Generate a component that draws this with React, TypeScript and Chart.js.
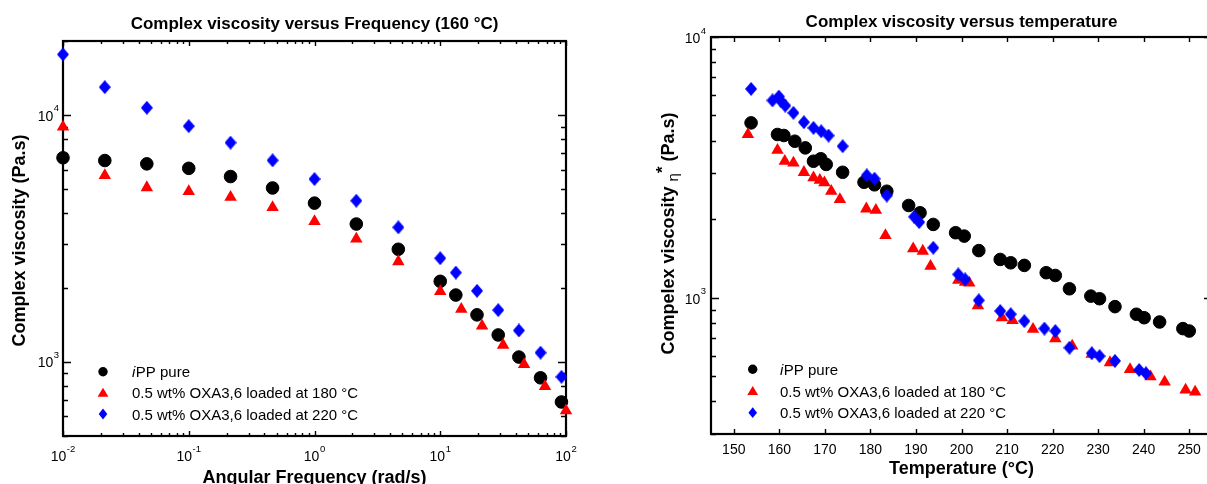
import React, { useEffect, useRef } from 'react';
import { Chart, registerables } from 'chart.js';

Chart.register(...registerables);

// ---------------- Left chart: complex viscosity vs angular frequency (160 °C)
const freqPure = [0.01, 0.0215, 0.0464, 0.1, 0.215, 0.464, 1, 2.15, 4.64, 10, 13.3, 19.6, 28.9, 42.2, 62.7, 92];
const etaPure = [6720, 6550, 6350, 6090, 5640, 5070, 4400, 3620, 2860, 2120, 1865, 1550, 1285, 1045, 861, 687];
const freq180 = [0.01, 0.0215, 0.0464, 0.1, 0.215, 0.464, 1, 2.15, 4.64, 10, 14.7, 21.5, 31.6, 46.4, 68.1, 100];
const eta180 = [8960, 5700, 5090, 4910, 4650, 4230, 3710, 3150, 2550, 1930, 1633, 1397, 1169, 975, 794, 634];
const freq220 = [0.01, 0.0215, 0.0464, 0.1, 0.215, 0.464, 1, 2.15, 4.64, 10, 13.3, 19.6, 28.9, 42.2, 62.7, 92];
const eta220 = [17650, 13000, 10720, 9030, 7740, 6560, 5510, 4500, 3510, 2630, 2300, 1940, 1620, 1340, 1089, 869];

const freqMajorTicks = [0.01, 0.1, 1, 10, 100];
const freqTickExponents = ['-2', '-1', '0', '1', '2'];
const etaFreqMajorTicks = [1000, 10000];
const etaFreqTickExponents = ['3', '4'];

// ---------------- Right chart: complex viscosity vs temperature
const tempPure = [153.8, 159.6, 161.0, 163.4, 165.7, 167.5, 169.1, 170.3, 173.9, 178.6, 180.9, 183.6, 188.4, 190.9, 193.8, 198.7, 200.6, 203.8, 208.5, 210.8, 213.8, 218.6, 220.6, 223.7, 228.4, 230.3, 233.7, 238.4, 240.1, 243.5, 248.6, 250.0];
const etaPureT = [4683, 4227, 4190, 3983, 3756, 3338, 3411, 3245, 3027, 2773, 2710, 2561, 2258, 2117, 1910, 1775, 1723, 1516, 1402, 1361, 1330, 1247, 1217, 1082, 1014, 991, 924, 864, 838, 807, 761, 745];
const temp180 = [153.1, 159.6, 161.2, 163.1, 165.4, 167.5, 168.9, 169.9, 171.4, 173.3, 179.1, 181.2, 183.3, 189.4, 191.5, 193.2, 199.3, 200.8, 201.7, 203.6, 208.9, 211.2, 215.7, 220.6, 224.3, 228.6, 232.6, 237.0, 241.5, 244.6, 249.2, 251.3];
const eta180T = [4226, 3680, 3338, 3287, 3027, 2884, 2823, 2760, 2561, 2382, 2193, 2166, 1733, 1541, 1510, 1321, 1167, 1148, 1140, 933, 838, 818, 757, 697, 653, 607, 564, 531, 498, 475, 443, 435];
const temp220 = [153.8, 158.5, 159.9, 160.4, 161.3, 163.1, 165.4, 167.5, 169.2, 170.8, 173.9, 179.2, 180.9, 183.6, 189.6, 190.7, 193.8, 199.3, 200.8, 203.8, 208.5, 210.8, 213.8, 218.2, 220.6, 223.7, 228.6, 230.3, 233.7, 239.0, 240.5];
const eta220T = [6324, 5713, 5912, 5666, 5453, 5118, 4711, 4480, 4349, 4187, 3810, 2946, 2860, 2466, 2044, 1950, 1554, 1228, 1175, 977, 889, 864, 813, 761, 745, 643, 612, 597, 572, 528, 513];

const tempTicks = [150, 160, 170, 180, 190, 200, 210, 220, 230, 240, 250];
const tempTickLabels = ['150', '160', '170', '180', '190', '200', '210', '220', '230', '240', '250'];
const etaTempMajorTicks = [1000, 10000];
const etaTempTickExponents = ['3', '4'];

// ---------------- Texts
const titleLeft = 'Complex viscosity versus Frequency (160 \u00B0C)';
const titleRight = 'Complex viscosity versus temperature';
const xTitleLeft = 'Angular Frequency (rad/s)';
const xTitleRight = 'Temperature (\u00B0C)';
const yTitleLeft = 'Complex viscosity (Pa.s)';
const yTitleRightParts = ['Compelex viscosity ', '\u03B7', '*', ' (Pa.s)'];
const legendItalicPrefix = 'i';
const legendLabels = ['PP pure', '0.5 wt% OXA3,6 loaded at 180 \u00B0C', '0.5 wt% OXA3,6 loaded at 220 \u00B0C'];

const BLACK = '#000000';
const RED = '#ff0000';
const BLUE = '#0000ff';
const FONT = "'Liberation Sans', Arial, Helvetica, sans-serif";

function makeDiamond(w: number, h: number, color: string) {
  const c = document.createElement('canvas');
  c.width = w;
  c.height = h;
  const g = c.getContext('2d')!;
  g.fillStyle = color;
  g.beginPath();
  g.moveTo(w / 2, 0);
  g.lineTo(w, h / 2);
  g.lineTo(w / 2, h);
  g.lineTo(0, h / 2);
  g.closePath();
  g.fill();
  return c;
}

function logMinorTicks(min: number, max: number) {
  const out: number[] = [];
  for (let e = Math.floor(Math.log10(min)); e <= Math.ceil(Math.log10(max)); e++) {
    for (let m = 2; m <= 9; m++) {
      const v = m * Math.pow(10, e);
      if (v >= min * 0.999 && v <= max * 1.001) out.push(v);
    }
  }
  return out;
}

function drawPower(ctx: CanvasRenderingContext2D, exp: string, x: number, y: number, align: 'center' | 'right') {
  ctx.font = `14px ${FONT}`;
  const bw = ctx.measureText('10').width;
  ctx.font = `9.5px ${FONT}`;
  const sw = ctx.measureText(exp).width;
  const total = bw + sw + 0.5;
  const x0 = align === 'center' ? x - total / 2 : x - total;
  ctx.textAlign = 'left';
  ctx.textBaseline = 'alphabetic';
  ctx.font = `14px ${FONT}`;
  ctx.fillText('10', x0, y);
  ctx.font = `9.5px ${FONT}`;
  ctx.fillText(exp, x0 + bw + 0.5, y - 9.5);
}

function drawLegend(ctx: CanvasRenderingContext2D, mx: number, ys: number[], tx: number) {
  ctx.save();
  ctx.fillStyle = BLACK;
  ctx.beginPath();
  ctx.arc(mx, ys[0], 4.7, 0, Math.PI * 2);
  ctx.fill();
  ctx.fillStyle = RED;
  ctx.beginPath();
  ctx.moveTo(mx, ys[1] - 5);
  ctx.lineTo(mx + 5.4, ys[1] + 4);
  ctx.lineTo(mx - 5.4, ys[1] + 4);
  ctx.closePath();
  ctx.fill();
  ctx.fillStyle = BLUE;
  ctx.beginPath();
  ctx.moveTo(mx, ys[2] - 5.4);
  ctx.lineTo(mx + 4.3, ys[2]);
  ctx.lineTo(mx, ys[2] + 5.4);
  ctx.lineTo(mx - 4.3, ys[2]);
  ctx.closePath();
  ctx.fill();

  ctx.fillStyle = '#000';
  ctx.textAlign = 'left';
  ctx.textBaseline = 'alphabetic';
  ctx.font = `italic 15px ${FONT}`;
  ctx.fillText(legendItalicPrefix, tx, ys[0] + 5.5);
  const iw = ctx.measureText(legendItalicPrefix).width;
  ctx.font = `15px ${FONT}`;
  ctx.fillText(legendLabels[0], tx + iw + 0.5, ys[0] + 5.5);
  ctx.fillText(legendLabels[1], tx, ys[1] + 5.5);
  ctx.fillText(legendLabels[2], tx, ys[2] + 5.5);
  ctx.restore();
}

type Spec = {
  xMajor: number[];
  xMinor: number[];
  yMajor: number[];
  yMinor: number[];
  xMajorLen: number;
  xMinorLen: number;
  yMajorLen: number;
  yMinorLen: number;
  drawText: (chart: any) => void;
};

function framePlugin(spec: Spec) {
  return {
    id: 'frameAndText',
    beforeDatasetsDraw(chart: any) {
      const { ctx, chartArea: a, scales } = chart;
      const x = scales.x;
      const y = scales.y;
      ctx.save();
      ctx.strokeStyle = '#000';
      ctx.lineWidth = 1.4;
      ctx.beginPath();
      const vx = (vals: number[], len: number) => {
        vals.forEach((v) => {
          const px = Math.round(x.getPixelForValue(v)) + 0.5;
          ctx.moveTo(px, a.bottom);
          ctx.lineTo(px, a.bottom - len);
          ctx.moveTo(px, a.top);
          ctx.lineTo(px, a.top + len);
        });
      };
      const vy = (vals: number[], len: number) => {
        vals.forEach((v) => {
          const py = Math.round(y.getPixelForValue(v)) + 0.5;
          ctx.moveTo(a.left, py);
          ctx.lineTo(a.left + len, py);
          ctx.moveTo(a.right, py);
          ctx.lineTo(a.right - len, py);
        });
      };
      vx(spec.xMajor, spec.xMajorLen);
      vx(spec.xMinor, spec.xMinorLen);
      vy(spec.yMajor, spec.yMajorLen);
      vy(spec.yMinor, spec.yMinorLen);
      ctx.stroke();
      ctx.lineWidth = 2.2;
      ctx.strokeRect(a.left, a.top, a.right - a.left, a.bottom - a.top);
      ctx.restore();
    },
    afterDraw(chart: any) {
      chart.ctx.save();
      chart.ctx.fillStyle = '#000';
      spec.drawText(chart);
      chart.ctx.restore();
    },
  };
}

function baseOptions(padding: any, xType: string, xMin: number, xMax: number, yMin: number, yMax: number) {
  return {
    animation: false,
    responsive: false,
    devicePixelRatio: 1,
    events: [],
    layout: { padding },
    plugins: { legend: { display: false }, tooltip: { enabled: false }, title: { display: false } },
    scales: {
      x: { type: xType, min: xMin, max: xMax, bounds: 'data', display: false },
      y: { type: 'logarithmic', min: yMin, max: yMax, bounds: 'data', display: false },
    },
  };
}

function makeDatasets(xs: number[][], ys: number[][], diamond: HTMLCanvasElement) {
  const pts = (a: number[], b: number[]) => a.map((v, i) => ({ x: v, y: b[i] }));
  return [
    {
      label: 'iPP pure',
      data: pts(xs[0], ys[0]),
      pointStyle: 'circle',
      pointRadius: 6.3,
      pointBorderWidth: 1,
      backgroundColor: BLACK,
      borderColor: BLACK,
      showLine: false,
      clip: false,
      order: 3,
    },
    {
      label: '180',
      data: pts(xs[1], ys[1]),
      pointStyle: 'triangle',
      pointRadius: 7.2,
      pointBorderWidth: 0,
      backgroundColor: RED,
      borderColor: RED,
      showLine: false,
      clip: false,
      order: 2,
    },
    {
      label: '220',
      data: pts(xs[2], ys[2]),
      pointStyle: diamond,
      pointRadius: 6,
      pointBorderWidth: 0,
      backgroundColor: BLUE,
      borderColor: BLUE,
      showLine: false,
      clip: false,
      order: 1,
    },
  ];
}

export default function App() {
  const leftRef = useRef<HTMLCanvasElement | null>(null);
  const rightRef = useRef<HTMLCanvasElement | null>(null);

  useEffect(() => {
    const diamond = makeDiamond(12, 14, BLUE);

    // ---------- Left chart
    const leftSpec: Spec = {
      xMajor: freqMajorTicks,
      xMinor: logMinorTicks(0.01, 100),
      yMajor: etaFreqMajorTicks,
      yMinor: logMinorTicks(500, 20000),
      xMajorLen: 5,
      xMinorLen: 3,
      yMajorLen: 8,
      yMinorLen: 5,
      drawText: (chart: any) => {
        const { ctx, chartArea: a, scales } = chart;
        freqMajorTicks.forEach((v, i) => {
          drawPower(ctx, freqTickExponents[i], scales.x.getPixelForValue(v), 461, 'center');
        });
        etaFreqMajorTicks.forEach((v, i) => {
          drawPower(ctx, etaFreqTickExponents[i], a.left - 4, scales.y.getPixelForValue(v) + 5.5, 'right');
        });
        const cx = (a.left + a.right) / 2;
        ctx.textAlign = 'center';
        ctx.textBaseline = 'alphabetic';
        ctx.font = `bold 17px ${FONT}`;
        ctx.fillText(titleLeft, cx, 28.5);
        ctx.font = `bold 18px ${FONT}`;
        ctx.fillText(xTitleLeft, cx, 483);
        ctx.save();
        ctx.translate(20, (a.top + a.bottom) / 2 + 2);
        ctx.rotate(-Math.PI / 2);
        ctx.textBaseline = 'middle';
        ctx.fillText(yTitleLeft, 0, 0);
        ctx.restore();
        drawLegend(ctx, 103, [371.7, 392.7, 414], 132);
      },
    };
    const left = new Chart(leftRef.current!, {
      type: 'scatter',
      data: { datasets: makeDatasets([freqPure, freq180, freq220], [etaPure, eta180, eta220], diamond) as any },
      options: baseOptions({ left: 63, top: 41, right: 34, bottom: 48 }, 'logarithmic', 0.01, 100, 500, 20000) as any,
      plugins: [framePlugin(leftSpec)],
    });

    // ---------- Right chart
    const rightSpec: Spec = {
      xMajor: tempTicks,
      xMinor: [],
      yMajor: etaTempMajorTicks,
      yMinor: logMinorTicks(300, 10000),
      xMajorLen: 5,
      xMinorLen: 0,
      yMajorLen: 8,
      yMinorLen: 5,
      drawText: (chart: any) => {
        const { ctx, chartArea: a, scales } = chart;
        ctx.font = `14px ${FONT}`;
        ctx.textAlign = 'center';
        ctx.textBaseline = 'alphabetic';
        tempTicks.forEach((v, i) => {
          ctx.fillText(tempTickLabels[i], scales.x.getPixelForValue(v), 453.5);
        });
        etaTempMajorTicks.forEach((v, i) => {
          drawPower(ctx, etaTempTickExponents[i], a.left - 5, scales.y.getPixelForValue(v) + 6, 'right');
        });
        const cx = (a.left + a.right) / 2;
        ctx.textAlign = 'center';
        ctx.textBaseline = 'alphabetic';
        ctx.font = `bold 17px ${FONT}`;
        ctx.fillText(titleRight, cx, 26.8);
        ctx.font = `bold 18px ${FONT}`;
        ctx.fillText(xTitleRight, cx, 474);

        // rotated rich y title
        const parts = [
          { t: yTitleRightParts[0], f: `bold 18px ${FONT}`, dy: 0 },
          { t: yTitleRightParts[1], f: `15px ${FONT}`, dy: 4 },
          { t: yTitleRightParts[2], f: `bold 17px ${FONT}`, dy: -6 },
          { t: yTitleRightParts[3], f: `bold 18px ${FONT}`, dy: 0 },
        ];
        let total = 0;
        const widths = parts.map((p) => {
          ctx.font = p.f;
          const w = ctx.measureText(p.t).width;
          total += w;
          return w;
        });
        ctx.save();
        ctx.translate(67, (a.top + a.bottom) / 2 - 2);
        ctx.rotate(-Math.PI / 2);
        ctx.textAlign = 'left';
        ctx.textBaseline = 'alphabetic';
        let px = -total / 2;
        parts.forEach((p, i) => {
          ctx.font = p.f;
          ctx.fillText(p.t, px, 6.5 + p.dy);
          px += widths[i];
        });
        ctx.restore();
        drawLegend(ctx, 152.7, [369.3, 391, 412.7], 180);
      },
    };
    const right = new Chart(rightRef.current!, {
      type: 'scatter',
      data: { datasets: makeDatasets([tempPure, temp180, temp220], [etaPureT, eta180T, eta220T], diamond) as any },
      options: baseOptions({ left: 111, top: 37, right: 38, bottom: 50 }, 'linear', 145, 255, 300, 10000) as any,
      plugins: [framePlugin(rightSpec)],
    });

    return () => {
      left.destroy();
      right.destroy();
    };
  }, []);

  return (
    <div
      style={{
        position: 'fixed',
        left: 0,
        top: 0,
        width: 1207,
        height: 484,
        overflow: 'hidden',
        background: '#ffffff',
      }}
    >
      <canvas
        ref={leftRef}
        width={600}
        height={484}
        style={{ position: 'absolute', left: 0, top: 0, width: 600, height: 484 }}
      />
      <canvas
        ref={rightRef}
        width={650}
        height={484}
        style={{ position: 'absolute', left: 600, top: 0, width: 650, height: 484 }}
      />
    </div>
  );
}
